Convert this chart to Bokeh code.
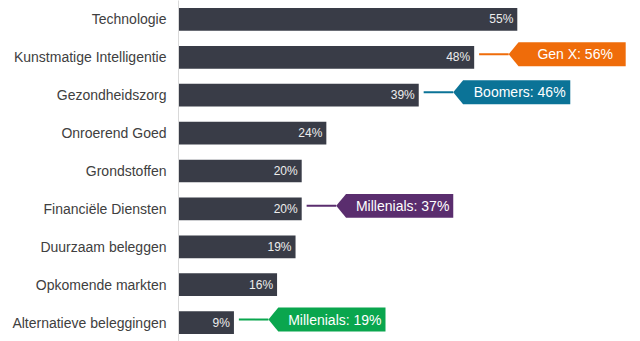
from bokeh.plotting import figure
from bokeh.models import Range1d, FixedTicker, ColumnDataSource
from bokeh.embed import file_html
from bokeh.resources import INLINE
from bokeh.core.properties import value

categories = ["Technologie", "Kunstmatige Intelligentie", "Gezondheidszorg",
              "Onroerend Goed", "Grondstoffen", "Financiële Diensten",
              "Duurzaam beleggen", "Opkomende markten", "Alternatieve beleggingen"]
values = [55, 48, 39, 24, 20, 20, 19, 16, 9]

callout_categories = ["Kunstmatige Intelligentie", "Gezondheidszorg",
                      "Financiële Diensten", "Alternatieve beleggingen"]
callout_labels = ["Gen X: 56%", "Boomers: 46%", "Millenials: 37%", "Millenials: 19%"]
callout_colors = ["#EF6C0A", "#0B7397", "#5A2D6E", "#0AA64E"]

FONT = "Liberation Sans"
BAR = "#393C47"

ys = list(range(len(categories)))

p = figure(width=640, height=341, x_range=Range1d(0, 75), y_range=Range1d(8.5, -0.5),
           min_border_left=178, min_border_right=0, min_border_top=0, min_border_bottom=0,
           toolbar_location=None, output_backend="svg")
p.xaxis.visible = False
p.grid.visible = False
p.outline_line_color = None
p.background_fill_color = "white"
p.border_fill_color = "white"

yax = p.yaxis[0]
yax.ticker = FixedTicker(ticks=ys)
yax.major_label_overrides = {i: c for i, c in enumerate(categories)}
yax.major_tick_line_color = None
yax.minor_tick_line_color = None
yax.major_tick_in = 0
yax.major_tick_out = 0
yax.major_label_standoff = 12
yax.axis_line_color = "#D9D9D9"
yax.axis_line_width = 1
yax.major_label_text_font = FONT
yax.major_label_text_font_size = "14px"
yax.major_label_text_color = "#404040"

src = ColumnDataSource(dict(y=ys, v=values, lab=[f"{v}%" for v in values]))
p.hbar(y="y", left=0, right="v", height=0.6, source=src, fill_color=BAR, line_color=None)
p.text(x="v", y="y", text="lab", source=src, x_offset=-4, text_align="right",
       text_baseline="middle", text_font=value(FONT), text_font_size="12px",
       text_color="#EDEDED")

# callouts
gap = 5.6        # bar end -> arrow tip (data units)
line_start = 0.8 # bar end -> connector start
arrow_w = 1.6
box_w = 19.0
box_h = 0.63
dy = -0.08

xs_list, ys_list, lx0, lx1, ly, tx, ty = [], [], [], [], [], [], []
for cat in callout_categories:
    i = categories.index(cat)
    v = values[i]
    c = i + dy
    tip = v + gap
    xs_list.append([tip, tip + arrow_w, tip + box_w, tip + box_w, tip + arrow_w])
    ys_list.append([c, c - box_h / 2, c - box_h / 2, c + box_h / 2, c + box_h / 2])
    lx0.append(v + line_start)
    lx1.append(tip)
    ly.append(c)
    tx.append(tip + (arrow_w + box_w) / 2)
    ty.append(c)

p.segment(x0=lx0, y0=ly, x1=lx1, y1=ly, line_color=callout_colors, line_width=2)
p.patches(xs=xs_list, ys=ys_list, fill_color=callout_colors, line_color=None)
p.text(x=tx, y=ty, text=callout_labels, x_offset=3, text_align="center",
       text_baseline="middle", text_font=value(FONT), text_font_size="14px",
       text_color="white")

open("out.html", "w").write(file_html(p, INLINE))
